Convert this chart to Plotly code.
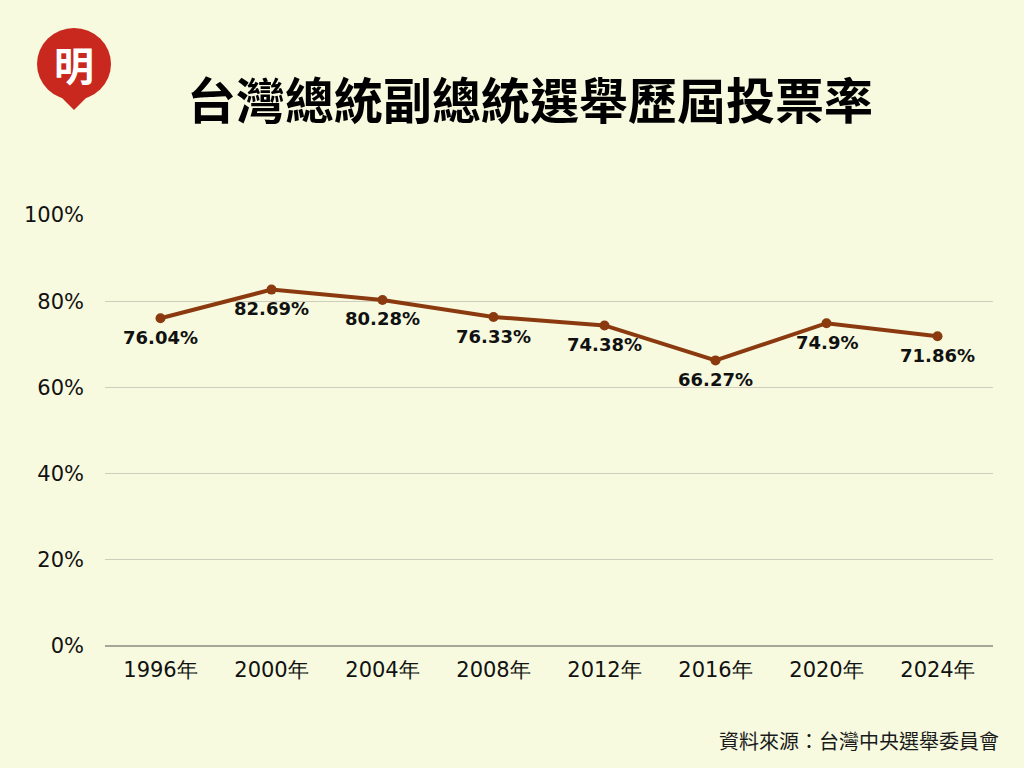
import plotly.graph_objects as go

years = ["1996年", "2000年", "2004年", "2008年", "2012年", "2016年", "2020年", "2024年"]
turnout = [76.04, 82.69, 80.28, 76.33, 74.38, 66.27, 74.9, 71.86]
labels = ["76.04%", "82.69%", "80.28%", "76.33%", "74.38%", "66.27%", "74.9%", "71.86%"]
y_ticks = [0, 20, 40, 60, 80, 100]
y_tick_text = ["0%", "20%", "40%", "60%", "80%", "100%"]

BG = "#F7FADF"
LINE = "#8B3A10"
L, R, T, B = 105, 31, 215, 122
PW, PH = 1024 - L - R, 768 - T - B


def px(x):
    return (x - L) / PW


def py(y):
    return (768 - B - y) / PH


fig = go.Figure()
fig.add_trace(go.Scatter(
    x=years, y=turnout, mode="lines+markers",
    line=dict(color=LINE, width=4),
    marker=dict(color=LINE, size=10),
    hoverinfo="skip",
))

for yr, v, lab in zip(years, turnout, labels):
    fig.add_annotation(x=yr, y=v, text=lab, showarrow=False, yshift=-19,
                       xanchor="center", yanchor="middle",
                       font=dict(family="DejaVu Sans", size=18, color="#111111", weight="bold"))

fig.update_layout(
    width=1024, height=768,
    paper_bgcolor=BG, plot_bgcolor=BG,
    margin=dict(l=L, r=R, t=T, b=B),
    showlegend=False,
    xaxis=dict(
        type="category", range=[-0.5, 7.5], showgrid=False, zeroline=False,
        showline=False, ticks="", ticklabelstandoff=9,
        tickfont=dict(family="DejaVu Sans", size=21, color="#111111"),
    ),
    yaxis=dict(
        range=[0, 100], tickvals=y_ticks, ticktext=y_tick_text,
        showgrid=True, gridcolor="#CDCFBC", gridwidth=1.2,
        zeroline=True, zerolinecolor="#A6A796", zerolinewidth=2,
        ticklabelstandoff=20,
        tickfont=dict(family="DejaVu Sans", size=21, color="#111111"),
    ),
    font=dict(family="Noto Sans CJK TC"),
)

# logo
fig.add_shape(type="circle", xref="paper", yref="paper",
              x0=px(37), x1=px(111), y0=py(100), y1=py(28),
              fillcolor="#C8281E", line=dict(width=0), layer="above")
fig.add_shape(type="path", xref="paper", yref="paper",
              path=f"M {px(58)} {py(94)} L {px(74)} {py(110)} L {px(90)} {py(94)} Z",
              fillcolor="#C8281E", line=dict(width=0), layer="above")
fig.add_annotation(x=px(74), y=py(64), xref="paper", yref="paper",
                   text="明", showarrow=False,
                   font=dict(family="Noto Sans CJK TC", size=40, color="white", weight="bold"),
                   xanchor="center", yanchor="middle")

fig.add_annotation(x=px(530), y=py(97), xref="paper", yref="paper",
                   text="台灣總統副總統選舉歷屆投票率", showarrow=False,
                   font=dict(family="Noto Sans CJK TC", size=49, color="#000000", weight="bold"),
                   xanchor="center", yanchor="middle")

fig.add_annotation(x=px(1001), y=py(740), xref="paper", yref="paper",
                   text="資料來源：台灣中央選舉委員會", showarrow=False,
                   font=dict(family="Noto Sans CJK TC", size=20, color="#1a1a1a"),
                   xanchor="right", yanchor="middle")

fig.write_html("out.html", config={"displayModeBar": False})

with open("out.html", encoding="utf-8") as f:
    html = f.read()
html = html.replace("<head>", "<head><style>html,body{margin:0;padding:0;overflow:hidden;background:%s}</style>" % BG, 1)
with open("out.html", "w", encoding="utf-8") as f:
    f.write(html)
